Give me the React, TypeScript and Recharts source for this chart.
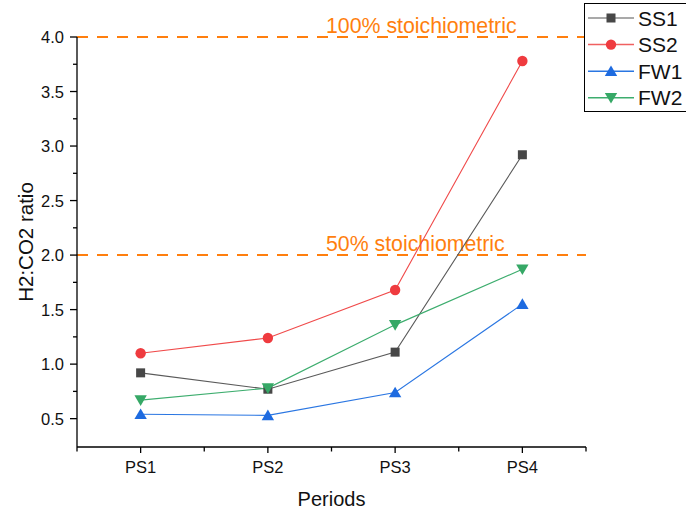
import React from 'react';
import { LineChart, Line, XAxis, YAxis, ReferenceLine, Legend } from 'recharts';

const periods = ['PS1', 'PS2', 'PS3', 'PS4'];
const ss1 = [0.92, 0.77, 1.11, 2.92];
const ss2 = [1.1, 1.24, 1.68, 3.78];
const fw1 = [0.54, 0.53, 0.74, 1.55];
const fw2 = [0.67, 0.78, 1.36, 1.87];

const yTicks = [0.5, 0.75, 1.0, 1.25, 1.5, 1.75, 2.0, 2.25, 2.5, 2.75, 3.0, 3.25, 3.5, 3.75, 4.0];
const yMajor = [0.5, 1.0, 1.5, 2.0, 2.5, 3.0, 3.5, 4.0];
const xTicks = [0.5, 1, 1.5, 2, 2.5, 3, 3.5, 4, 4.5];

const refLines = [
  { value: 4, label: '100% stoichiometric' },
  { value: 2, label: '50% stoichiometric' },
];

const FONT = 'Arial, "Liberation Sans", Helvetica, sans-serif';
const ORANGE = '#FF7F0E';

const series = [
  { key: 'SS1', values: ss1, line: '#5a5a5a', legendLine: '#8c8c8c', marker: '#474747', shape: 'square' },
  { key: 'SS2', values: ss2, line: '#F04A4A', legendLine: '#F06060', marker: '#EF3B3F', shape: 'circle' },
  { key: 'FW1', values: fw1, line: '#2A76E2', legendLine: '#2A76E2', marker: '#1E6BE0', shape: 'up' },
  { key: 'FW2', values: fw2, line: '#3DAD6E', legendLine: '#3DAD6E', marker: '#36A866', shape: 'down' },
];

const data = periods.map((p, i) => {
  const row: any = { pos: i + 1, period: p };
  series.forEach((s) => {
    row[s.key] = s.values[i];
  });
  return row;
});

function Marker({ shape, cx, cy, color }: any) {
  if (cx == null || cy == null) return null;
  if (shape === 'square') {
    return <rect x={cx - 4.5} y={cy - 4.5} width={9} height={9} fill={color} />;
  }
  if (shape === 'circle') {
    return <circle cx={cx} cy={cy} r={5.2} fill={color} />;
  }
  if (shape === 'up') {
    return <polygon points={`${cx},${cy - 5.8} ${cx - 6.2},${cy + 4.8} ${cx + 6.2},${cy + 4.8}`} fill={color} />;
  }
  return <polygon points={`${cx - 6.2},${cy - 4.8} ${cx + 6.2},${cy - 4.8} ${cx},${cy + 5.8}`} fill={color} />;
}

const YTick = (props: any) => {
  const { x, y, payload } = props;
  const axisX = x + 10;
  const v = payload.value;
  const major = yMajor.some((m) => Math.abs(m - v) < 1e-6);
  return (
    <g>
      <line x1={axisX - (major ? 7 : 4)} x2={axisX} y1={y} y2={y} stroke="#000" strokeWidth={1.3} />
      {major && (
        <text x={axisX - 13} y={y + 6} textAnchor="end" fontFamily={FONT} fontSize={16.5} fill="#111">
          {v.toFixed(1)}
        </text>
      )}
    </g>
  );
};

const XTick = (props: any) => {
  const { x, y, payload } = props;
  const axisY = y - 8;
  const v = payload.value;
  const isCat = Math.abs(v - Math.round(v)) < 1e-6;
  const label = isCat ? periods[Math.round(v) - 1] : '';
  return (
    <g>
      <line x1={x} x2={x} y1={axisY} y2={axisY + (isCat ? 6 : 4.5)} stroke="#000" strokeWidth={1.3} />
      {label && (
        <text x={x} y={axisY + 26} textAnchor="middle" fontFamily={FONT} fontSize={16.5} fill="#111">
          {label}
        </text>
      )}
    </g>
  );
};

const LegendBox = () => (
  <svg width={104} height={108} style={{ display: 'block' }}>
    {series.map((s, i) => {
      const cy = 14 + i * 26.6;
      return (
        <g key={s.key}>
          <line x1={3} x2={49} y1={cy} y2={cy} stroke={s.legendLine} strokeWidth={1.5} />
          <Marker shape={s.shape} cx={26} cy={cy} color={s.marker} />
          <text x={53} y={cy + 7.5} fontFamily={FONT} fontSize={21} fill="#111">
            {s.key}
          </text>
        </g>
      );
    })}
  </svg>
);

export default function App() {
  return (
    <div style={{ position: 'absolute', left: 0, top: 0, width: 686, height: 510, background: '#fff' }}>
      <LineChart width={686} height={510} data={data} margin={{ top: 37, right: 100, bottom: 0, left: 0 }}>
        <XAxis
          dataKey="pos"
          type="number"
          domain={[0.5, 4.5]}
          ticks={xTicks}
          interval={0}
          allowDataOverflow
          height={63}
          tickSize={6}
          tickMargin={2}
          tickLine={false}
          tick={<XTick />}
          axisLine={{ stroke: '#000', strokeWidth: 1.3 }}
          label={{
            content: (p: any) => {
              const vb = p.viewBox;
              return (
                <text x={vb.x + vb.width / 2} y={506} textAnchor="middle" fontFamily={FONT} fontSize={20} fill="#111">
                  Periods
                </text>
              );
            },
          }}
        />
        <YAxis
          type="number"
          domain={[0.24, 4]}
          ticks={yTicks}
          interval={0}
          allowDataOverflow
          width={77}
          tickSize={6}
          tickMargin={4}
          tickLine={false}
          tick={<YTick />}
          axisLine={{ stroke: '#000', strokeWidth: 1.3 }}
          label={{
            content: (p: any) => {
              const vb = p.viewBox;
              const cy = vb.y + vb.height / 2;
              return (
                <text
                  x={33}
                  y={cy}
                  transform={`rotate(-90, 33, ${cy})`}
                  textAnchor="middle"
                  fontFamily={FONT}
                  fontSize={20.5}
                  fill="#111"
                >
                  H2:CO2 ratio
                </text>
              );
            },
          }}
        />
        {refLines.map((r) => (
          <ReferenceLine
            key={r.label}
            y={r.value}
            stroke={ORANGE}
            strokeWidth={2}
            strokeDasharray="11 9"
            ifOverflow="visible"
            label={{
              content: (p: any) => {
                const vb = p.viewBox;
                return (
                  <text x={326} y={vb.y - 4} fontFamily={FONT} fontSize={21.3} fill={ORANGE}>
                    {r.label}
                  </text>
                );
              },
            }}
          />
        ))}
        {series.map((s) => (
          <Line
            key={s.key}
            dataKey={s.key}
            name={s.key}
            stroke={s.line}
            strokeWidth={1.1}
            isAnimationActive={false}
            activeDot={false}
            dot={(p: any) => (
              <Marker key={`${s.key}-${p.index}`} shape={s.shape} cx={p.cx} cy={p.cy} color={s.marker} />
            )}
          />
        ))}
        <Legend
          layout="vertical"
          align="center"
          verticalAlign="middle"
          content={() => <LegendBox />}
          wrapperStyle={{
            position: 'absolute',
            left: 584,
            top: 3,
            width: 106,
            height: 109,
            border: '1px solid #000',
            background: '#fff',
            boxSizing: 'border-box',
            margin: 0,
            padding: 0,
          }}
        />
      </LineChart>
    </div>
  );
}
